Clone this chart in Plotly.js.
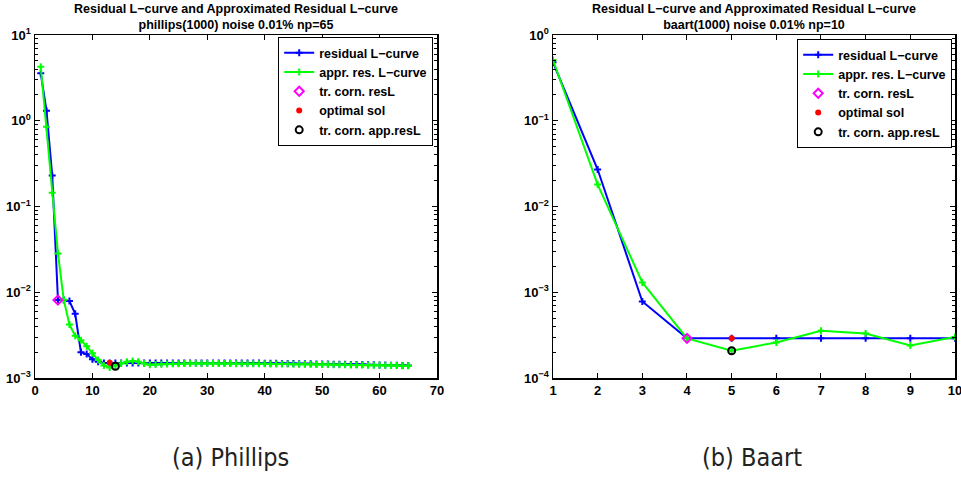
<!DOCTYPE html>
<html><head><meta charset="utf-8">
<script src="https://cdn.plot.ly/plotly-3.0.1.min.js"></script>
<style>html,body{margin:0;padding:0;background:#fff}#c{width:961px;height:480px}</style>
</head><body><div id="c"></div>
<script>
// ---- Phillips (left) ----
const phX = Array.from({length:65},(_,i)=>i+1);
const phResid = [3.57,1.31,0.23,0.0081,0.0081,0.0079,0.0056,0.0020,0.0019,0.00166,
 0.00155,0.0015,0.0015,0.0015,0.0015,0.0015,0.0015,0.0015,0.0015,0.0015,
 0.0015,0.0015,0.0015,0.0015,0.0015,0.0015,0.0015,0.0015,0.0015,0.0015,
 0.0015,0.0015,0.0015,0.0015,0.0015,0.0015,0.0015,0.0015,0.0015,0.00149,
 0.00149,0.00149,0.00148,0.00148,0.00148,0.00147,0.00147,0.00147,0.00146,0.00146,
 0.00146,0.00145,0.00145,0.00145,0.00144,0.00144,0.00144,0.00143,0.00143,0.00142,
 0.00142,0.00141,0.00141,0.0014,0.0014];
const phAppr = [4.26,0.85,0.145,0.0284,0.0082,0.0042,0.0031,0.00275,0.00234,0.00195,
 0.00162,0.0014,0.00133,0.0014,0.00148,0.00155,0.00158,0.00155,0.00148,0.00143,
 0.00144,0.00145,0.00146,0.00147,0.00147,0.00148,0.00148,0.00148,0.00148,0.00148,
 0.00148,0.00148,0.00148,0.00148,0.00147,0.00147,0.00147,0.00147,0.00147,0.00147,
 0.00146,0.00146,0.00146,0.00146,0.00145,0.00145,0.00145,0.00145,0.00144,0.00144,
 0.00144,0.00143,0.00143,0.00143,0.00142,0.00142,0.00142,0.00141,0.00141,0.00141,
 0.0014,0.0014,0.0014,0.00139,0.00139];
const phCornResL = {x:4, y:0.0081};
const phOptimal = {x:13, y:0.00151};
const phCornAppr = {x:14, y:0.00137};

// ---- Baart (right) ----
const baX = [1,2,3,4,5,6,7,8,9,10];
const baResid = [0.48,0.027,0.00078,0.00029,0.00029,0.00029,0.00029,0.00029,0.00029,0.00029];
const baAppr = [0.51,0.018,0.0013,0.00029,0.000208,0.00026,0.000355,0.00033,0.00024,0.0003];
const baCornResL = {x:4, y:0.00029};
const baOptimal = {x:5, y:0.00029};
const baCornAppr = {x:5, y:0.000208};

const titles = ['Residual L\u2212curve and Approximated Residual L\u2212curve<br>phillips(1000) noise 0.01% np=65',
                'Residual L\u2212curve and Approximated Residual L\u2212curve<br>baart(1000) noise 0.01% np=10'];
const captions = ['(a) Phillips','(b) Baart'];
const names = ['residual L\u2212curve','appr. res. L\u2212curve','tr. corn. resL','optimal sol','tr. corn. app.resL'];
const phXTicks = [0,10,20,30,40,50,60,70];
const baXTicks = [1,2,3,4,5,6,7,8,9,10];
const phYTicks = [1e-3,1e-2,1e-1,1,10];
const phYText = ['10<sup>\u22123</sup>','10<sup>\u22122</sup>','10<sup>\u22121</sup>','10<sup>0</sup>','10<sup>1</sup>'];
const baYTicks = [1e-4,1e-3,1e-2,1e-1,1];
const baYText = ['10<sup>\u22124</sup>','10<sup>\u22123</sup>','10<sup>\u22122</sup>','10<sup>\u22121</sup>','10<sup>0</sup>'];

const F = 'Liberation Sans, Arial, sans-serif';
const b = s => '<b>'+s+'</b>';
function set(xs, r, a, cr, op, ca, xa, ya, leg){
  return [
    {x:xs,y:r,name:b(names[0]),mode:'lines+markers',xaxis:xa,yaxis:ya,legend:leg,
     line:{color:'#0000ff',width:2},marker:{symbol:'cross-thin',size:5,line:{color:'#0000ff',width:2}}},
    {x:xs,y:a,name:b(names[1]),mode:'lines+markers',xaxis:xa,yaxis:ya,legend:leg,
     line:{color:'#00ff00',width:2},marker:{symbol:'cross-thin',size:5,line:{color:'#00ff00',width:2}}},
    {x:[cr.x],y:[cr.y],name:b(names[2]),mode:'markers',xaxis:xa,yaxis:ya,legend:leg,
     marker:{symbol:'diamond-open',size:7,color:'#ff00ff',line:{color:'#ff00ff',width:2}}},
    {x:[op.x],y:[op.y],name:b(names[3]),mode:'markers',xaxis:xa,yaxis:ya,legend:leg,
     marker:{symbol:'circle',size:6,color:'#ff0000'}},
    {x:[ca.x],y:[ca.y],name:b(names[4]),mode:'markers',xaxis:xa,yaxis:ya,legend:leg,
     marker:{symbol:'circle-open',size:7,color:'#000000',line:{color:'#000',width:2}}}
  ];
}
const data = [].concat(
  set(phX,phResid,phAppr,phCornResL,phOptimal,phCornAppr,'x','y','legend'),
  set(baX,baResid,baAppr,baCornResL,baOptimal,baCornAppr,'x2','y2','legend2'));

const W=961,H=480;
const yDom=[1-378/H,1-35/H];
const axBase = {showline:true,linecolor:'#000',linewidth:1.5,mirror:'ticks',ticks:'inside',ticklen:5,
  tickcolor:'#000',showgrid:false,zeroline:false,ticklabeloverflow:'allow',tickfont:{family:F,size:13,color:'#000'}};
const legBase = {bgcolor:'#fff',bordercolor:'#000',borderwidth:1.2,font:{family:F,size:12.5,color:'#000'},
  xanchor:'right',yanchor:'top',tracegroupgap:0,itemwidth:30};
const layout = {
  width:W,height:H,margin:{l:0,r:0,t:0,b:0},paper_bgcolor:'#fff',plot_bgcolor:'#fff',
  showlegend:true,
  xaxis:Object.assign({},axBase,{domain:[35/W,437/W],range:[0,70],tickvals:phXTicks,ticktext:phXTicks.map(v=>b(v)),anchor:'y'}),
  yaxis:Object.assign({},axBase,{domain:yDom,type:'log',range:[-3,1],tickvals:phYTicks,ticktext:phYText.map(b),anchor:'x',
    minor:{ticks:'inside',ticklen:3,tickcolor:'#000',dtick:'D1'}}),
  xaxis2:Object.assign({},axBase,{domain:[553/W,955/W],range:[1,10.0005],tickvals:baXTicks,ticktext:baXTicks.map(v=>b(v)),anchor:'y2'}),
  yaxis2:Object.assign({},axBase,{domain:yDom,type:'log',range:[-4,0],tickvals:baYTicks,ticktext:baYText.map(b),anchor:'x2',
    minor:{ticks:'inside',ticklen:3,tickcolor:'#000',dtick:'D1'}}),
  legend:Object.assign({},legBase,{x:433/W,y:1-37/H}),
  legend2:Object.assign({},legBase,{x:952/W,y:1-39/H}),
  annotations:[
    {text:b(titles[0]),xref:'paper',yref:'paper',x:236/W,y:1,xanchor:'center',yanchor:'top',showarrow:false,
      font:{family:F,size:12.5,color:'#000'}},
    {text:b(titles[1]),xref:'paper',yref:'paper',x:754/W,y:1,xanchor:'center',yanchor:'top',showarrow:false,
      font:{family:F,size:12.5,color:'#000'}},
    {text:captions[0],xref:'paper',yref:'paper',x:230/W,y:1-457/H,xanchor:'center',yanchor:'middle',showarrow:false,
      font:{family:'DejaVu Sans Condensed, Liberation Sans, sans-serif',size:25,color:'#222'}},
    {text:captions[1],xref:'paper',yref:'paper',x:752/W,y:1-457/H,xanchor:'center',yanchor:'middle',showarrow:false,
      font:{family:'DejaVu Sans Condensed, Liberation Sans, sans-serif',size:25,color:'#222'}}
  ]
};
Plotly.newPlot('c',data,layout,{staticPlot:true,displayModeBar:false});
</script></body></html>
